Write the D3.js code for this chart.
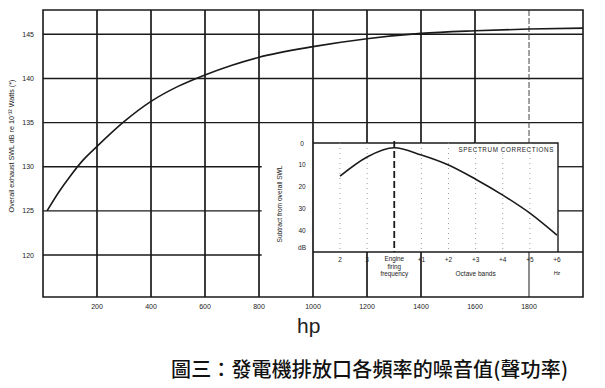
<!DOCTYPE html>
<html>
<head>
<meta charset="utf-8">
<script src="https://cdn.jsdelivr.net/npm/d3@7"></script>
<style>
  body { margin: 0; background: #fff; }
  svg { display: block; }
  .lab { font-family: "Liberation Sans", Arial, sans-serif; fill: #222; }
</style>
</head>
<body>
<div id="graph"></div>
<script>
// main curve: overall exhaust SWL vs engine hp
var hpValues  = [15, 60, 100, 150, 200, 300, 400, 500, 600, 700, 800, 1000, 1200, 1400, 1600, 1800, 2000];
var swlValues = [125, 127.2, 128.9, 130.8, 132.3, 135.1, 137.4, 139.1, 140.4, 141.5, 142.4, 143.6, 144.5, 145.1, 145.4, 145.6, 145.7];
var xTicks = [200, 400, 600, 800, 1000, 1200, 1400, 1600, 1800];
var yTicks = [120, 125, 130, 135, 140, 145];

// inset: spectrum corrections per octave band
var bands = ["2", "3", "E", "+1", "+2", "+3", "+4", "+5", "+6"];
var corrections = [15.2, 6.4, 2.2, 5.5, 10.1, 16.6, 23.9, 32.2, 42.3];
var insetTicks = [0, 10, 20, 30, 40];

var W = 605, H = 388;
var pLeft = 43, pRight = 583, pTop = 10, pBottom = 297;

var svg = d3.select("#graph").append("svg")
    .attr("width", W)
    .attr("height", H);

var x = d3.scaleLinear().domain([0, 2000]).range([pLeft, pRight]);
var y = d3.scaleLinear().domain([120, 145]).range([255, 34.3]);

// inset frame
var iLeft = x(1000), iRight = 558, iTop = 143, iBottom = 252;
var ix = d3.scalePoint().domain(bands).range([340, 557]);
var iy = d3.scaleLinear().domain([0, 50]).range([iTop, iBottom]);

var ink = "#1a1a1a";

// horizontal grid
yTicks.forEach(function(v) {
  if (v >= 135) {
    svg.append("line").attr("x1", pLeft).attr("x2", pRight)
      .attr("y1", y(v)).attr("y2", y(v))
      .attr("stroke", ink).attr("stroke-width", 1.4);
  } else {
    svg.append("line").attr("x1", pLeft).attr("x2", x(810))
      .attr("y1", y(v)).attr("y2", y(v))
      .attr("stroke", ink).attr("stroke-width", 1.4);
    if (v > 120) {
      svg.append("line").attr("x1", iRight).attr("x2", pRight)
        .attr("y1", y(v)).attr("y2", y(v))
        .attr("stroke", ink).attr("stroke-width", 1.3);
    }
  }
});

// vertical grid
xTicks.forEach(function(v) {
  var w = v == 1800 ? 1 : 1.7;
  if (v <= 1000) {
    svg.append("line").attr("x1", x(v)).attr("x2", x(v))
      .attr("y1", pTop).attr("y2", pBottom)
      .attr("stroke", ink).attr("stroke-width", w);
  } else {
    svg.append("line").attr("x1", x(v)).attr("x2", x(v))
      .attr("y1", pTop).attr("y2", iTop)
      .attr("stroke", v == 1800 ? "#444" : ink).attr("stroke-width", w)
      .attr("stroke-dasharray", v == 1800 ? "6,2" : null);
    if (v != 1600) {
      svg.append("line").attr("x1", x(v)).attr("x2", x(v))
        .attr("y1", iBottom).attr("y2", pBottom)
        .attr("stroke", ink).attr("stroke-width", w);
    }
  }
});

// frame
svg.append("path")
  .attr("d", "M" + pLeft + "," + pTop + "H" + pRight + "V" + pBottom + "H" + pLeft + "Z")
  .attr("fill", "none").attr("stroke", ink).attr("stroke-width", 1.6);

// inset box
svg.append("path")
  .attr("d", "M" + iLeft + "," + iTop + "H" + iRight + "V" + iBottom)
  .attr("fill", "none").attr("stroke", ink).attr("stroke-width", 1.4);
svg.append("line").attr("x1", iLeft).attr("x2", pRight)
  .attr("y1", iBottom).attr("y2", iBottom)
  .attr("stroke", ink).attr("stroke-width", 1.4);

// inset band gridlines
bands.forEach(function(b) {
  if (b == "E") {
    svg.append("line").attr("x1", ix(b)).attr("x2", ix(b))
      .attr("y1", iTop - 2).attr("y2", iBottom)
      .attr("stroke", ink).attr("stroke-width", 1.8)
      .attr("stroke-dasharray", "7,3");
  } else if (b != "+6") {
    svg.append("line").attr("x1", ix(b)).attr("x2", ix(b))
      .attr("y1", iTop).attr("y2", iBottom)
      .attr("stroke", "#888").attr("stroke-width", 0.8)
      .attr("stroke-dasharray", "1,4");
  }
});

// main curve
var line = d3.line()
  .x(function(d, i) { return x(hpValues[i]); })
  .y(function(d) { return y(d); })
  .curve(d3.curveMonotoneX);

svg.append("path")
  .datum(swlValues)
  .attr("d", line)
  .attr("fill", "none").attr("stroke", ink).attr("stroke-width", 1.6);

// inset curve
var iline = d3.line()
  .x(function(d, i) { return ix(bands[i]); })
  .y(function(d) { return iy(d); })
  .curve(d3.curveMonotoneX);

svg.append("path")
  .datum(corrections)
  .attr("d", iline)
  .attr("fill", "none").attr("stroke", ink).attr("stroke-width", 1.6);

// tick labels main
svg.selectAll(".xt").data(xTicks).enter().append("text")
  .attr("class", "lab")
  .attr("x", function(d) { return x(d); })
  .attr("y", 309)
  .attr("text-anchor", "middle")
  .attr("font-size", 7)
  .text(function(d) { return d; });

svg.selectAll(".yt").data(yTicks).enter().append("text")
  .attr("class", "lab")
  .attr("x", 34)
  .attr("y", function(d) { return y(d) + 2.5; })
  .attr("text-anchor", "end")
  .attr("font-size", 7)
  .text(function(d) { return d; });

svg.append("text")
  .attr("class", "lab")
  .attr("transform", "translate(14,146) rotate(-90)")
  .attr("text-anchor", "middle")
  .attr("font-size", 7.2)
  .text("Overall exhaust SWL dB re 10\u207B\u00B9\u00B2 Watts (*)");

svg.append("text")
  .attr("class", "lab")
  .attr("x", 297).attr("y", 333)
  .attr("font-size", 21)
  .attr("fill", "#333")
  .text("hp");

// inset labels
svg.selectAll(".it").data(insetTicks).enter().append("text")
  .attr("class", "lab")
  .attr("x", 302)
  .attr("y", function(d) { return iy(d) + 2.5; })
  .attr("text-anchor", "middle")
  .attr("font-size", 6.5)
  .text(function(d) { return d; });
svg.append("text").attr("class", "lab")
  .attr("x", 302).attr("y", 249.5)
  .attr("text-anchor", "middle").attr("font-size", 6.5)
  .text("dB");

svg.append("text")
  .attr("class", "lab")
  .attr("transform", "translate(282,204) rotate(-90)")
  .attr("text-anchor", "middle")
  .attr("font-size", 6.6)
  .text("Subtract from overall SWL");

svg.append("text")
  .attr("class", "lab")
  .attr("x", 554).attr("y", 152)
  .attr("text-anchor", "end")
  .attr("font-size", 6.3)
  .attr("letter-spacing", 0.6)
  .text("SPECTRUM CORRECTIONS");

svg.selectAll(".bt").data(bands.filter(function(b) { return b != "E"; })).enter().append("text")
  .attr("class", "lab")
  .attr("x", function(d) { return ix(d); })
  .attr("y", 262)
  .attr("text-anchor", "middle")
  .attr("font-size", 6.5)
  .text(function(d) { return d; });

["Engine", "firing", "frequency"].forEach(function(t, i) {
  svg.append("text").attr("class", "lab")
    .attr("x", ix("E")).attr("y", 261 + i * 7.5)
    .attr("text-anchor", "middle").attr("font-size", 6.3)
    .text(t);
});

svg.append("text").attr("class", "lab")
  .attr("x", ix("+3")).attr("y", 276)
  .attr("text-anchor", "middle").attr("font-size", 6.5)
  .text("Octave bands");

svg.append("text").attr("class", "lab")
  .attr("x", ix("+6")).attr("y", 275)
  .attr("text-anchor", "middle").attr("font-size", 5.5)
  .text("Hz");

// caption
svg.append("text")
  .attr("x", 171).attr("y", 377)
  .attr("font-family", "'Noto Sans CJK TC', sans-serif")
  .attr("font-size", 20)
  .attr("font-weight", 500)
  .attr("fill", "#111")
  .attr("textLength", 397)
  .attr("lengthAdjust", "spacing")
  .text("圖三：發電機排放口各頻率的噪音值(聲功率)");
</script>
</body>
</html>
